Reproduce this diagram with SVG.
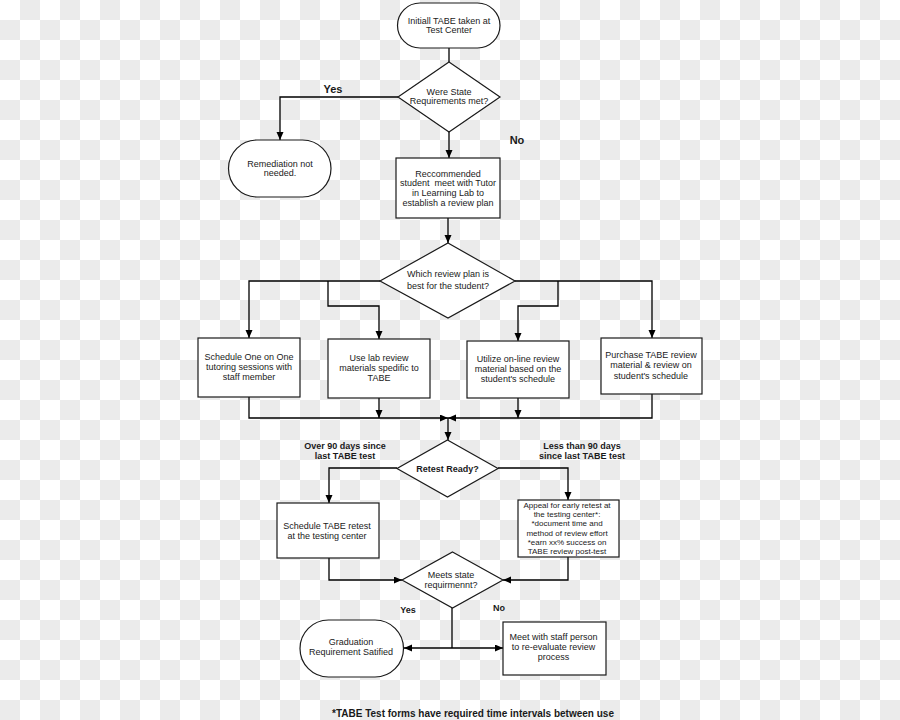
<svg xmlns="http://www.w3.org/2000/svg" width="900" height="720" viewBox="0 0 900 720">
  <defs>
    <pattern id="checker" x="0" y="0" width="40" height="40" patternUnits="userSpaceOnUse">
      <rect width="40" height="40" fill="#ffffff"/>
      <rect x="20" y="0" width="20" height="20" fill="#ebebeb"/>
      <rect x="0" y="20" width="20" height="20" fill="#ebebeb"/>
    </pattern>
    <marker id="arrow" markerUnits="userSpaceOnUse" markerWidth="9" markerHeight="8" refX="8" refY="3.5" orient="auto">
      <path d="M0,0 L8,3.5 L0,7 z" fill="#000"/>
    </marker>
  </defs>
  <style>
    .shape { fill: #ffffff; stroke: #1a1a1a; stroke-width: 1.2; }
    .conn { fill: none; stroke: #000; stroke-width: 1.3; }
    .arr { marker-end: url(#arrow); }
    text { font-family: "Liberation Sans", Arial, sans-serif; font-size: 9px; fill: #1a1a1a; text-anchor: middle; }
    .b { font-weight: bold; }
    .big { font-size: 11px; }
    .small { font-size: 8px; }
    .foot { font-size: 10px; }
  </style>
  <rect width="900" height="720" fill="url(#checker)"/>

  <g id="connectors">
    <path class="conn" d="M449,48 V62"/>
    <path class="conn arr" d="M398,97 H280 V140"/>
    <path class="conn arr" d="M449,132 V158"/>
    <path class="conn arr" d="M448,218 V243"/>
    <path class="conn arr" d="M380,281 H249 V338"/>
    <path class="conn arr" d="M328,281 V306 H379 V339"/>
    <path class="conn arr" d="M515,281 H652 V338"/>
    <path class="conn arr" d="M558,281 V306 H518 V341"/>
    <path class="conn arr" d="M249,397 V418 H448"/>
    <path class="conn arr" d="M379,398 V418"/>
    <path class="conn arr" d="M518,398 V418"/>
    <path class="conn arr" d="M652,394 V418 H448"/>
    <path class="conn arr" d="M448,418 V440"/>
    <path class="conn arr" d="M397,468 H329 V503"/>
    <path class="conn arr" d="M498,468 H568 V500"/>
    <path class="conn arr" d="M329,558 V580 H402"/>
    <path class="conn arr" d="M568,557 V580 H503"/>
    <path class="conn" d="M452,608 V648"/>
    <path class="conn arr" d="M452,648 H404"/>
    <path class="conn arr" d="M452,648 H503"/>
  </g>

  <g id="start">
    <rect class="shape" x="397.5" y="3" width="102.5" height="45" rx="22.5"/>
    <text x="449" y="23.5">Initiall TABE taken at</text>
    <text x="449" y="33">Test Center</text>
  </g>

  <g id="d-state-met">
    <polygon class="shape" points="449,62 500,97 449,132 398,97"/>
    <text x="449" y="94.5">Were State</text>
    <text x="449" y="104">Requirements met?</text>
  </g>

  <g id="lbl-yes-top"><text class="b big" x="333" y="92.5">Yes</text></g>
  <g id="lbl-no-top"><text class="b big" x="517" y="144">No</text></g>

  <g id="remediation">
    <rect class="shape" x="228.5" y="140" width="102.5" height="57" rx="28.5"/>
    <text x="280" y="166.5">Remediation not</text>
    <text x="280" y="176">needed.</text>
  </g>

  <g id="tutor">
    <rect class="shape" x="396" y="158" width="104" height="60"/>
    <text x="448" y="176.5">Reccommended</text>
    <text x="448" y="186" xml:space="preserve">student  meet with Tutor</text>
    <text x="448" y="196">in Learning Lab to</text>
    <text x="448" y="205.5">establish a review plan</text>
  </g>

  <g id="d-review-plan">
    <polygon class="shape" points="448,243 515,281 448,318 380,281"/>
    <text x="448" y="276.5">Which review plan is</text>
    <text x="448" y="288.5">best for the student?</text>
  </g>

  <g id="one-on-one">
    <rect class="shape" x="198" y="338" width="102" height="59"/>
    <text x="249" y="360">Schedule One on One</text>
    <text x="249" y="370">tutoring sessions with</text>
    <text x="249" y="380">staff member</text>
  </g>

  <g id="lab-materials">
    <rect class="shape" x="328" y="339" width="102" height="59"/>
    <text x="379" y="360.5">Use lab review</text>
    <text x="379" y="370.5">materials spedific to</text>
    <text x="379" y="380.5">TABE</text>
  </g>

  <g id="online">
    <rect class="shape" x="467" y="341" width="102" height="57"/>
    <text x="518" y="361.5">Utilize on-line review</text>
    <text x="518" y="371.5">material based on the</text>
    <text x="518" y="381.5">student's schedule</text>
  </g>

  <g id="purchase">
    <rect class="shape" x="601" y="338" width="101" height="56"/>
    <text x="651" y="357.5">Purchase TABE review</text>
    <text x="651" y="368">material &amp; review on</text>
    <text x="651" y="378.5">student's schedule</text>
  </g>

  <g id="d-retest">
    <polygon class="shape" points="447.5,440 498,468.5 447.5,497 397,468.5"/>
    <text class="b" x="447.5" y="471.5">Retest Ready?</text>
  </g>

  <g id="lbl-over90">
    <text class="b" x="345" y="449">Over 90 days since</text>
    <text class="b" x="345" y="459">last TABE test</text>
  </g>
  <g id="lbl-less90">
    <text class="b" x="582" y="449">Less than 90 days</text>
    <text class="b" x="582" y="459">since last TABE test</text>
  </g>

  <g id="schedule-retest">
    <rect class="shape" x="277" y="503" width="102" height="55"/>
    <text x="327" y="528.5">Schedule TABE retest</text>
    <text x="327" y="538.5">at the testing center</text>
  </g>

  <g id="appeal">
    <rect class="shape" x="518" y="500" width="101" height="57"/>
    <text class="small" x="567" y="508">Appeal for early retest at</text>
    <text class="small" x="567" y="517.2">the testing center*:</text>
    <text class="small" x="567" y="526.4">*document time and</text>
    <text class="small" x="567" y="535.6">method of review effort</text>
    <text class="small" x="567" y="544.8">*earn xx% success on</text>
    <text class="small" x="567" y="554">TABE review post-test</text>
  </g>

  <g id="d-meets">
    <polygon class="shape" points="452.5,552 503,580 452.5,608 402,580"/>
    <text x="451" y="577.5">Meets state</text>
    <text x="451" y="587.5">requirmennt?</text>
  </g>

  <g id="lbl-yes-bottom"><text class="b" x="408" y="612.5">Yes</text></g>
  <g id="lbl-no-bottom"><text class="b" x="499" y="610.5">No</text></g>

  <g id="graduation">
    <rect class="shape" x="300" y="620" width="103.5" height="57" rx="28.5"/>
    <text x="351" y="645">Graduation</text>
    <text x="351" y="655">Requirement Satified</text>
  </g>

  <g id="re-evaluate">
    <rect class="shape" x="503" y="622" width="103" height="53"/>
    <text x="553.5" y="640">Meet with staff person</text>
    <text x="553.5" y="650">to re-evaluate review</text>
    <text x="553.5" y="660">process</text>
  </g>

  <g id="footnote">
    <text class="b foot" x="473" y="716.5">*TABE Test forms have required time intervals between use</text>
  </g>
</svg>
